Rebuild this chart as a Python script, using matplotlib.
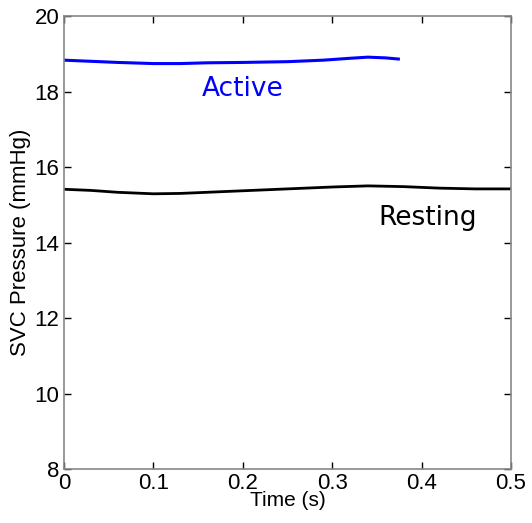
import matplotlib
matplotlib.use("Agg")
import matplotlib.pyplot as plt

plt.rcParams["font.family"] = ["Liberation Sans", "DejaVu Sans"]

# active (exercise) SVC pressure trace
t_active = [0.0, 0.03, 0.06, 0.1, 0.13, 0.16, 0.2, 0.25, 0.29, 0.32, 0.34, 0.36, 0.374]
p_active = [18.83, 18.80, 18.77, 18.74, 18.74, 18.76, 18.77, 18.79, 18.83, 18.88, 18.91, 18.89, 18.86]

# resting SVC pressure trace
t_rest = [0.0, 0.03, 0.06, 0.1, 0.13, 0.16, 0.2, 0.25, 0.3, 0.34, 0.38, 0.42, 0.46, 0.5]
p_rest = [15.41, 15.38, 15.33, 15.29, 15.30, 15.33, 15.37, 15.42, 15.47, 15.50, 15.48, 15.44, 15.42, 15.42]

xticks = [0, 0.1, 0.2, 0.3, 0.4, 0.5]
xticklabels = ["0", "0.1", "0.2", "0.3", "0.4", "0.5"]
yticks = [8, 10, 12, 14, 16, 18, 20]

fig = plt.figure(figsize=(5.32, 5.23), dpi=100)
ax = fig.add_axes([64 / 532, 1 - 469 / 523, (511 - 64) / 532, (469 - 16) / 523])

ax.plot(t_active, p_active, color="#0000ff", linewidth=2.2)
ax.plot(t_rest, p_rest, color="black", linewidth=2)

ax.text(0.2, 18.07, "Active", color="#0000ff", fontsize=19, family="DejaVu Sans",
        ha="center", va="center")
ax.text(0.407, 14.65, "Resting", color="black", fontsize=19, family="DejaVu Sans",
        ha="center", va="center")

ax.set_xlim(0, 0.5)
ax.set_ylim(8, 20)
ax.set_xticks(xticks)
ax.set_xticklabels(xticklabels)
ax.set_yticks(yticks)
ax.tick_params(direction="in", top=True, right=True, length=5, labelsize=16, width=1)
ax.tick_params(axis="x", pad=3)
for s in ax.spines.values():
    s.set_color("#888888")
    s.set_linewidth(1.2)

ax.set_xlabel("Time (s)", fontsize=15, labelpad=-2)
ax.set_ylabel("SVC Pressure (mmHg)", fontsize=16, labelpad=2)

fig.savefig("out.png", dpi=100)
